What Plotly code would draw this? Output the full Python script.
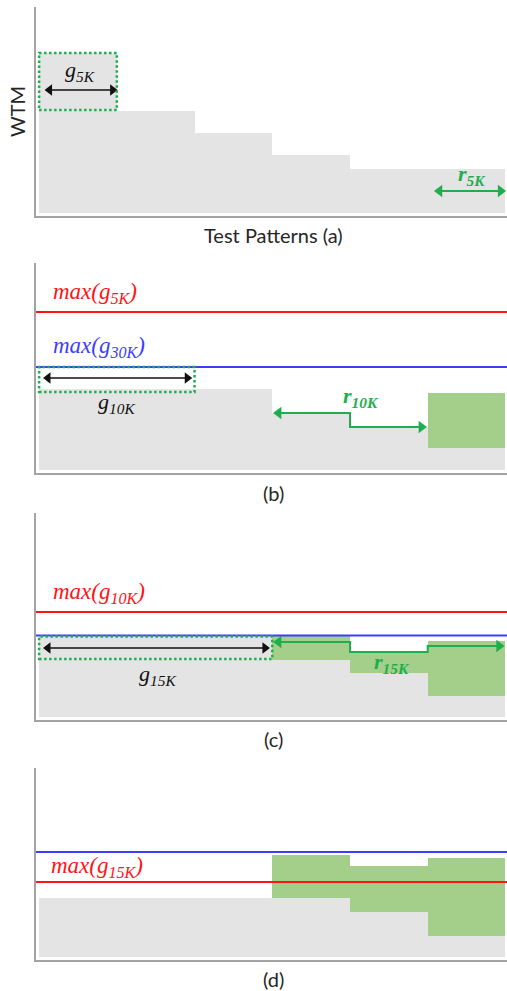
import plotly.graph_objects as go

# ---------------- data (WTM values, arbitrary units per panel) ----------------
patterns = [1, 2, 3, 4, 5, 6]
wtm_base = 3

wtm_a = [163, 105, 83, 61, 47, 47]
wtm_b = [84, 84, 84, 60, 46, 33]
wtm_c = [83, 83, 83, 60, 47, 24]
wtm_d = [61.5, 61.5, 61.5, 62, 47.5, 23.5]

retest_b = [6]
retest_b_low = [25]
retest_b_high = [80]

retest_cd = [4, 5, 6]
retest_c_low = [60, 47, 24]
retest_c_high = [84, 69, 79]
retest_d_low = [62, 47.5, 23.5]
retest_d_high = [104.5, 93.5, 101.5]

max_g5k_b, max_g30k_b = 161, 106
max_g10k_c, max_g30k_c = 108, 84.5
max_g15k_d, max_g30k_d = 77.5, 107.5

# guard-band boxes (pattern span, low, high) and arrow paths
box_a = (0, 1, 106, 163)
box_b = (0, 2, 81, 106)
box_c = (0, 3, 61, 83.5)
g5k_arrow_x, g5k_arrow_y = [0.06, 1.02], [126, 126]
g10k_arrow_x, g10k_arrow_y = [0.04, 1.98], [95, 95]
g15k_arrow_x, g15k_arrow_y = [0.04, 2.98], [72, 72]
r5k_arrow_x, r5k_arrow_y = [5.07, 6.02], [25, 25]
r10k_arrow_x, r10k_arrow_y = [3.0, 4.0, 4.0, 5.0], [60, 60, 46, 46]
r15k_arrow_x = [3.0, 4.0, 4.0, 5.0, 5.0, 6.0]
r15k_arrow_y = [78, 78, 68, 68, 74, 74]

# ---------------- styling ----------------
W, H = 507, 991
X_LEFT = 36
X_RANGE = [-0.04, 6.02]
PXU = (W - X_LEFT) / (X_RANGE[1] - X_RANGE[0])   # pixels per pattern unit
GRAY = "#e4e4e4"
AXIS = "#a3a3a3"
GFILL = "#a4cf8a"
GREEN = "#1fae4f"
RED = "#ff1414"
BLUE = "#3d3dff"
BLACK = "#111111"
TXT = "#262626"
SERIF = "Liberation Serif, Times New Roman, serif"
SANS = "Lato, Open Sans, sans-serif"

# panel pixel geometry (top, bottom)
panels = [(7, 216), (263, 473), (513, 720), (768, 959.5)]
suffix = ["", "2", "3", "4"]

fig = go.Figure()

def gray_steps(i, vals):
    s = suffix[i]
    fig.add_trace(go.Bar(x=patterns, y=[v - wtm_base for v in vals], base=wtm_base,
                         width=1, offset=-1, marker=dict(color=GRAY, line=dict(width=0)),
                         xaxis="x" + s, yaxis="y" + s, hoverinfo="skip"))

def green_steps(i, pats, lo, hi):
    s = suffix[i]
    fig.add_trace(go.Bar(x=pats, y=[h - l for l, h in zip(lo, hi)], base=lo,
                         width=1, offset=-1, marker=dict(color=GFILL, line=dict(width=0)),
                         xaxis="x" + s, yaxis="y" + s, hoverinfo="skip"))

def hline(i, y, color):
    s = suffix[i]
    fig.add_shape(type="line", xref="x" + s + " domain", yref="y" + s,
                  x0=0, x1=1, y0=y, y1=y, line=dict(color=color, width=2))

def box(i, b):
    s = suffix[i]
    fig.add_shape(type="rect", xref="x" + s, yref="y" + s,
                  x0=b[0], x1=b[1], y0=b[2], y1=b[3],
                  line=dict(color=GREEN, width=2.5, dash="2.5px,2.5px"))

def arrow(i, xs, ys, color, start=False, end=True, width=1.6, size=10):
    """Polyline with triangular heads at its horizontal ends."""
    s = suffix[i]
    xs = list(xs)
    ys = list(ys)
    r = size / 2.0
    tip_off = (r * 2 / 3 ** 0.5) / PXU      # triangle tip distance from its centre
    hx, hy, sym = [], [], []
    if start:
        d = 1 if xs[0] < xs[1] else -1
        c = xs[0] + d * tip_off
        hx.append(c); hy.append(ys[0]); sym.append("triangle-left" if d > 0 else "triangle-right")
        xs[0] = c
    if end:
        d = 1 if xs[-1] > xs[-2] else -1
        c = xs[-1] - d * tip_off
        hx.append(c); hy.append(ys[-1]); sym.append("triangle-right" if d > 0 else "triangle-left")
        xs[-1] = c
    fig.add_trace(go.Scatter(x=xs, y=ys, mode="lines", line=dict(color=color, width=width),
                             xaxis="x" + s, yaxis="y" + s, hoverinfo="skip"))
    fig.add_trace(go.Scatter(x=hx, y=hy, mode="markers",
                             marker=dict(symbol=sym, size=size, color=color, line=dict(width=0)),
                             xaxis="x" + s, yaxis="y" + s, hoverinfo="skip"))

def label(i, x, y, text, color, size=22, anchor="center", bold=False):
    s = suffix[i]
    t = "<i>" + text + "</i>"
    if bold:
        t = "<b>" + t + "</b>"
    fig.add_annotation(x=x, y=y, xref="x" + s, yref="y" + s, text=t, showarrow=False,
                       xanchor=anchor, yanchor="middle",
                       font=dict(family=SERIF, size=size, color=color))

# ---- panel (a)
gray_steps(0, wtm_a)
box(0, box_a)
arrow(0, g5k_arrow_x, g5k_arrow_y, BLACK, start=True)
label(0, 0.53, 145, "g<sub>5K</sub>", BLACK)
arrow(0, r5k_arrow_x, r5k_arrow_y, GREEN, start=True, width=2, size=11)
label(0, 5.57, 41, "r<sub>5K</sub>", GREEN, bold=True)

# ---- panel (b)
gray_steps(1, wtm_b)
green_steps(1, retest_b, retest_b_low, retest_b_high)
hline(1, max_g5k_b, RED)
hline(1, max_g30k_b, BLUE)
box(1, box_b)
arrow(1, g10k_arrow_x, g10k_arrow_y, BLACK, start=True)
label(1, 1.0, 70, "g<sub>10K</sub>", BLACK)
label(1, 0.15, 180, "max(g<sub>5K</sub>)", RED, size=23, anchor="left")
label(1, 0.15, 126, "max(g<sub>30K</sub>)", BLUE, size=23, anchor="left")
arrow(1, r10k_arrow_x, r10k_arrow_y, GREEN, start=True, width=2, size=11)
label(1, 4.14, 76, "r<sub>10K</sub>", GREEN, bold=True)

# ---- panel (c)
gray_steps(2, wtm_c)
green_steps(2, retest_cd, retest_c_low, retest_c_high)
hline(2, max_g10k_c, RED)
hline(2, max_g30k_c, BLUE)
box(2, box_c)
arrow(2, g15k_arrow_x, g15k_arrow_y, BLACK, start=True)
label(2, 1.52, 45, "g<sub>15K</sub>", BLACK)
label(2, 0.15, 127, "max(g<sub>10K</sub>)", RED, size=23, anchor="left")
arrow(2, r15k_arrow_x, r15k_arrow_y, GREEN, start=True, width=2, size=11)
label(2, 4.54, 57, "r<sub>15K</sub>", GREEN, bold=True)

# ---- panel (d)
gray_steps(3, wtm_d)
green_steps(3, retest_cd, retest_d_low, retest_d_high)
hline(3, max_g30k_d, BLUE)
hline(3, max_g15k_d, RED)
label(3, 0.13, 92.5, "max(g<sub>15K</sub>)", RED, size=23, anchor="left")

# ---- axes
layout_axes = {}
for i, (top, bot) in enumerate(panels):
    s = suffix[i]
    common = dict(showline=True, linecolor=AXIS, linewidth=2, showticklabels=False,
                  ticks="", showgrid=False, zeroline=False, fixedrange=True)
    layout_axes["xaxis" + s] = dict(domain=[X_LEFT / W, 1], range=X_RANGE,
                                    anchor="y" + s, **common)
    layout_axes["yaxis" + s] = dict(domain=[1 - bot / H, 1 - top / H], range=[0, bot - top],
                                    anchor="x" + s, **common)
fig.update_layout(**layout_axes)

# ---- axis / panel captions
def cap(xpx, ypx, text, angle=0, size=20):
    fig.add_annotation(x=xpx / W, y=1 - ypx / H, xref="paper", yref="paper", text=text,
                       showarrow=False, textangle=angle, xanchor="center", yanchor="middle",
                       font=dict(family=SANS, size=size, color=TXT))

cap(17, 112, "WTM", angle=-90)
cap(273, 235, "Test Patterns (a)")
cap(273, 493, "(b)")
cap(273, 739, "(c)")
cap(273, 979, "(d)")

fig.update_layout(width=W, height=H, margin=dict(l=0, r=0, t=0, b=0),
                  paper_bgcolor="white", plot_bgcolor="white",
                  barmode="overlay", bargap=0, showlegend=False)

fig.write_html("out.html", config={"displayModeBar": False},
               post_script="document.body.style.margin='0';document.body.style.overflow='hidden';")
